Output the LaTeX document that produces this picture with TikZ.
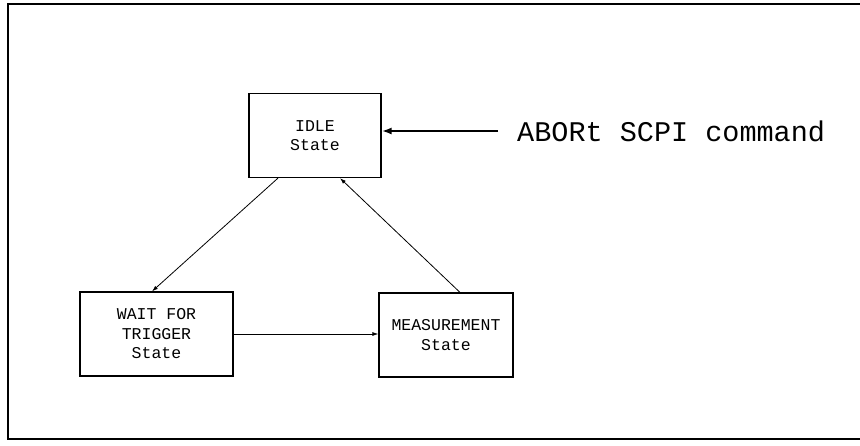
\documentclass[tikz,border=0pt]{standalone}
\usepackage{fontspec}
\setmonofont{Liberation Mono}
\usetikzlibrary{arrows.meta}
\tikzset{
  statebox/.style={draw, line width=1.2pt, rectangle, align=center, font=\ttfamily\fontsize{16.5}{19.5}\selectfont},
  arr/.style={line width=0.8pt, -{Latex[length=6pt,width=4pt]}},
  bigarr/.style={line width=2pt, -{Latex[length=10pt,width=7pt]}},
  frame/.style={line width=2pt}
}
\begin{document}
\begin{tikzpicture}[x=1pt,y=-1pt]
\useasboundingbox (0,0) rectangle (860,445);
\draw[frame] (860,4) -- (8,4) -- (8,439) -- (860,439);
\node[statebox, minimum width=132pt, minimum height=84pt] (idle) at (315,135.5) {IDLE\\State};
\node[statebox, minimum width=153pt, minimum height=84pt] (wait) at (156.5,334) {WAIT FOR\\TRIGGER\\State};
\node[statebox, minimum width=134pt, minimum height=84pt] (meas) at (446,335) {MEASUREMENT\\State};
\node[anchor=west, inner sep=0pt, font=\ttfamily\fontsize{28.5}{30}\selectfont] (abort) at (517,131) {ABORt SCPI command};
\draw[arr] ([xshift=-37pt]idle.south) -- ([xshift=-4.5pt]wait.north);
\draw[arr] ([xshift=14pt]meas.north) -- ([xshift=25pt]idle.south);
\draw[arr] (wait.east) -- (wait.east -| meas.west);
\draw[bigarr] ([xshift=-19pt]abort.west) -- (abort.west -| idle.east);
\end{tikzpicture}
\end{document}
